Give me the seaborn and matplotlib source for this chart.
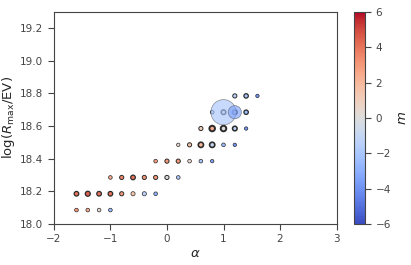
import matplotlib
matplotlib.use("Agg")
import matplotlib.pyplot as plt
import seaborn as sns
import numpy as np
import pandas as pd

# binned points: alpha, log(Rmax/EV), mean m, marker size, edge width
alpha_vals = [-1.6, -1.4, -1.2, -1.0,
              -1.6, -1.4, -1.2, -1.0, -0.8, -0.6, -0.4, -0.2,
              -1.0, -0.8, -0.6, -0.4, -0.2, 0.0, 0.2,
              -0.2, 0.0, 0.2, 0.4, 0.6, 0.8,
              0.2, 0.4, 0.6, 0.8, 1.0, 1.2,
              0.6, 0.8, 1.0, 1.2, 1.4,
              0.8, 1.0, 1.2, 1.4,
              1.2, 1.4, 1.6]
logR_vals = [18.085] * 4 + [18.185] * 8 + [18.285] * 7 + [18.385] * 6 + \
            [18.485] * 6 + [18.585] * 5 + [18.685] * 4 + [18.785] * 3
m_vals = [3.0, 2.5, 0.5, -2.5,
          4.0, 4.5, 4.0, 4.0, 3.0, 1.5, -1.5, -3.0,
          2.5, 3.5, 4.0, 3.0, 3.0, 0.0, -2.0,
          3.0, 3.0, 3.0, 0.5, -2.0, -3.5,
          0.5, 1.5, 2.0, -1.0, -2.5, -4.0,
          1.0, 2.5, 0.0, -1.5, -4.0,
          -1.0, 0.0, 0.0, -2.5,
          -1.5, -2.0, -4.0]
size_vals = [7, 7, 7, 7,
             11, 13, 11, 11, 9, 9, 9, 7,
             7, 9, 11, 9, 9, 9, 7,
             7, 9, 9, 7, 7, 6,
             6, 9, 14, 14, 7, 6,
             9, 16, 16, 11, 6,
             7, 11, 11, 10,
             9, 10, 6]
edge_vals = [0.5, 0.5, 0.5, 0.5,
             0.9, 0.9, 0.9, 0.9, 0.7, 0.5, 0.5, 0.5,
             0.5, 0.7, 0.9, 0.7, 0.7, 0.7, 0.5,
             0.5, 0.7, 0.7, 0.5, 0.5, 0.5,
             0.5, 0.7, 1.2, 1.2, 0.5, 0.5,
             0.7, 1.4, 1.4, 1.1, 0.5,
             0.6, 1.1, 1.1, 0.9,
             0.7, 0.9, 0.5]

# translucent halos
halo_alpha = [1.0, 1.2]
halo_logR = [18.685, 18.685]
halo_m = [-2.0, -3.5]
halo_size = [330, 90]

df = pd.DataFrame({"alpha": alpha_vals, "logR": logR_vals, "m": m_vals, "s": size_vals})
halos = pd.DataFrame({"alpha": halo_alpha, "logR": halo_logR, "m": halo_m, "s": halo_size})

sns.set_style("ticks")
plt.rcParams["font.family"] = ["DejaVu Sans"]

fig = plt.figure(figsize=(4.11, 2.65), dpi=100)
ax = fig.add_axes([0.131, 0.155, 0.688, 0.80])
cax = fig.add_axes([0.862, 0.155, 0.026, 0.80])

sns.scatterplot(data=df, x="alpha", y="logR", hue="m", palette="coolwarm",
                hue_norm=(-6, 6), size="s", sizes=(5, 400), size_norm=(5, 400),
                edgecolor="#2b2b2b", legend=False, ax=ax, zorder=3)
ax.collections[-1].set_linewidths(edge_vals)

sns.scatterplot(data=halos, x="alpha", y="logR", hue="m", palette="coolwarm",
                hue_norm=(-6, 6), size="s", sizes=(5, 400), size_norm=(5, 400),
                edgecolor="#555555", linewidth=0.5, alpha=0.65,
                legend=False, ax=ax, zorder=4)

ax.set_xlim(-2, 3)
ax.set_ylim(18.0, 19.3)
ax.set_xticks([-2, -1, 0, 1, 2, 3])
ax.set_yticks(np.arange(18.0, 19.21, 0.2))
ax.tick_params(labelsize=7.5, colors="#444444", length=4)
for sp in ax.spines.values():
    sp.set_color("#444444")
ax.set_xlabel(r"$\alpha$", fontsize=9.5, labelpad=2)
ax.set_ylabel(r"$\log(R_{\max}/\mathrm{EV})$", fontsize=9.5, labelpad=2)

sm = plt.cm.ScalarMappable(cmap="coolwarm", norm=plt.Normalize(-6, 6))
cb = fig.colorbar(sm, cax=cax)
cb.set_ticks([-6, -4, -2, 0, 2, 4, 6])
cb.ax.tick_params(labelsize=7.5, colors="#444444", length=4)
cb.outline.set_edgecolor("#444444")
cb.set_label(r"$m$", fontsize=9.5)

fig.savefig("out.png", dpi=100)
